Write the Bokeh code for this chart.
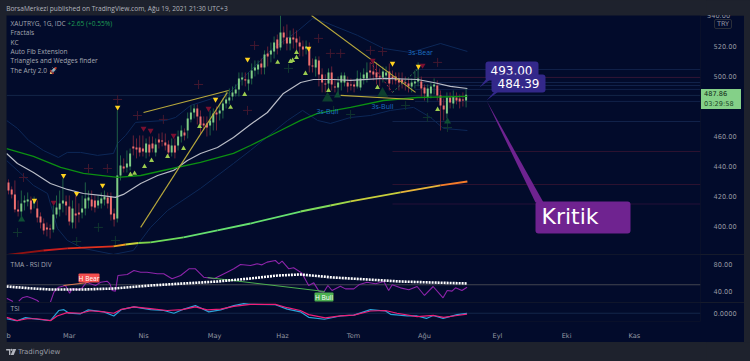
from bokeh.plotting import figure
from bokeh.layouts import column
from bokeh.models import Range1d, LinearAxis, FixedTicker, NumeralTickFormatter, Label, BoxAnnotation, Div
from bokeh.embed import file_html
from bokeh.resources import INLINE

NAN = float("nan")

# ---- data ----
open_ = [429.4,424.7,421.4,411.4,410,416,416.7,417.4,415.4,412,406.7,402,399.4,398.7,398,408,411.4,415.4,416.7,413.4,402.7,408.7,409.4,409.4,412,417.4,418,417.4,414,415.4,418,419.4,420,408.7,405.4,434,440,439.4,440,453.4,452.7,452.7,452,449.4,454.7,455.4,449.4,458,457.4,456,454.7,449.4,454,454,460,462.7,464,471.4,476,478.7,473.4,468.7,468.7,467.4,469.4,476,475.4,477.4,482,484,486.7,488.7,491.4,498,498,495.4,498.7,504,504.7,508.7,506,515.4,514.7,516.7,524.7,519.4,529.4,526,522,526,525.4,522.7,520,518.7,519.4,507.4,506,510.7,501.4,495.4,495.4,502.7,493.4,492.7,496,496,496,494.7,494.7,493.4,492.7,498.7,498.7,504,503.4,502.7,500,499.4,500.7,503.4,500,500,498.7,498,496,495.4,493.4,495.4,496.7,496.7,492.7,486,488.7,493.4,494,487.4,480.7,475.4,486,482,486,485.4,484.7,484]
high = [431.4,426.7,430.7,417.4,424,420.7,422.7,420,420,417.4,409.4,405.4,402.7,401.4,414,420.7,424,432,420.7,420.7,417.4,420.7,415.4,420.7,429.4,424,424,420.7,420.7,422.7,424,422.7,422.7,412,477.4,447.4,445.4,450.7,452,460.7,458.7,460.7,460.7,458.7,460,460,458.7,462,462.7,462,457.4,458.7,458.7,464,467.4,465.4,476,480.7,481.4,481.4,477.4,473.4,473.4,477.4,478.7,480,481.4,485.4,490.7,492,493.4,494.7,502.7,502.7,502.7,502.7,508.7,510.7,510.7,512,517.4,520,522.7,526.7,528,540.7,533.4,534.7,530.7,532,530.7,526.7,524,524,522.7,512,513.4,513.4,505.4,501.4,505.4,506.7,498.7,500,502.7,502.7,500,498.7,497.4,504,502.7,505.4,509.4,509.4,510.7,509.4,505.4,506.7,506.7,508.7,504,502.7,502.7,502.7,500,498.7,498.7,504,509.4,500,494.7,494.7,496,498.7,497.4,490.7,485.4,489.4,489.4,490.7,489.4,488,489.4,492]
low = [421.4,418.7,409.4,406.7,406,410.7,413.4,408.7,412,402.7,398.7,394.7,393.4,392,396,405.4,406.7,409.4,407.4,400.7,398.7,398.7,402.7,405.4,407.4,412,410.7,409.4,412,412,414,412,404,400,402.7,430.7,436,436,437.4,447.4,445.4,446.7,446.7,445.4,446.7,449.4,446.7,452,453.4,450.7,446.7,446.7,445.4,450.7,456,457.4,458.7,469.4,472,468,461.4,464,460,460.7,464,464,470.7,472,478.7,481.4,484,486.7,486.7,494,493.4,490.7,494.7,500,501.4,501.4,501.4,506.7,509.4,512,514.7,517.4,521.4,517.4,517.4,518.7,517.4,513.4,513.4,514.7,502.7,502.7,500,493.4,489.4,489.4,492,490.7,489.4,488,490.7,493.4,489.4,490.7,489.4,492,490.7,494.7,496,498.7,497.4,494.7,493.4,496,497.4,490.7,494.7,494.7,490.7,492,490.7,489.4,489.4,492,493.4,486.7,484,482.7,485.4,488,484,464,470.7,472,478.7,478.7,481.4,478.7,480,479.4]
close = [424,421.4,411.4,410,415.4,417.4,418,411.4,418,406,402.7,397.4,398,398,408,412.7,415.4,417.4,414,403.4,412,407.4,408,412,418.7,419.4,413.4,412.7,417.4,418.7,420,415.4,408,404.7,434,440.7,438.7,442,448.7,452,451.4,449.4,450,455.4,449.4,452,454.7,456,456.7,454,449.4,454,449.4,460,464,460.7,472,476,478.7,473.4,467.4,467.4,466,470.7,475.4,474.7,477.4,482,484.7,486,489.4,491.4,498.7,499.4,497.4,498,504,506,508,506,514.7,513.4,517.4,522.7,518.7,529.4,526,522,526,524.7,522.7,520,518,520,507.4,506.7,511.4,501.4,496,494.7,502.7,494.7,492.7,496,500.7,500.7,493.4,494,493.4,498.7,498.7,501.4,502.7,502.7,501.4,499.4,499.4,503.4,502.7,495.4,498.7,497.4,496,495.4,495.4,493.4,496,496.7,498.7,492,488.7,492,493.4,494.7,487.4,480.7,478,486,482.7,486.7,484,483.4,484,487.86]

white_idx = [-0.6,2.8,7.8,13.1,18.4,23.4,28.8,33.4,35.9,41.3,46.6,51.6,55.9,60,65.3,70.3,75.6,80.9,85.9,91.3,95.3,101.6,106.9,117.2,127.8,132.8,138.1,143.4]
white_val = [448.7,442,436,428.7,424.7,422,420.7,419.4,421.4,428.7,434,437.4,444,448.7,452.7,459.4,468,476,488.7,496,498,498,497.4,498.7,498,496,493.4,492]
green_idx = [-0.6,7.8,16.3,23.4,34.1,41.3,49.7,60,70.3,75.6,85,91.3,96.6,106.9,117.2,127.8,143.4]
green_val = [452,446.7,439.4,435.4,432.7,434,438,442.7,448.7,454,464,470.7,475.4,479.4,484,486,486.7]
long_idx = [-0.6,10.9,18.4,32.8,36.6,40.6,44.4,54.7,65.3,75.6,91.3,100.6,106.9,122.5,135,143.4]
long_val = [381,384,385.4,386.7,388,389,389.4,392.7,397.4,402,410,414,416.7,422.7,427.4,430]
long_colors = ["#8e1212","#c91d1d","#e0301e","#f09a20","#c8d23a","#7fd14a","#6fdc5c","#66e070","#66e070","#66e070","#7fdc5c","#9fd84a","#c8cf3c","#e8b53a","#f57c2a"]
upper_idx = [-0.6,2.8,6.3,10.9,15.6,18.4,22.5,27.8,32.8,34.1,36.6,39.7,49.1,52.2,56.9,63.8,68.8,75.6,81.9,90.6,95,99.1,109.1,117.2,125.6,135,143.4]
upper_val = [470.7,465.4,457.4,450.7,446,449.4,449.4,447.4,448.7,455.4,460.7,469.4,470.7,472.7,480.7,485.4,488.7,504,517.4,530.7,538.7,536,527.4,518.7,516,522,516.7]
lower_idx = [-0.6,3.8,7.8,12.2,15.3,18.4,23.4,32.8,39,44.4,49.7,60,70.3,75.6,87.2,91.9,96.6,100.6,106.9,113.1,119.4,126.6,131.9,135.9,143.4]
lower_val = [444,435.4,427.4,422,398.7,390.7,385.4,381.4,384,399.4,410.7,425.4,442,450.7,470.7,477.4,470.7,468.7,472.7,474,477.4,479.4,472.7,465.4,464]

cross_red_idx = [59.4,34.1,40.3,48.4,74.7,4.7,25,30.9,76.9,96.9,100.6,103.8,113.1,116.9,134.1]
cross_red_val = [494.7,484.7,474,471.4,477.4,432.7,438.7,438.7,520.7,525.4,515.4,515.4,517.4,516.7,509.4]
cross_green_idx = [2.8,28.1,21.3,33.4,87.5,101.6,106.9,124.1,130.9,137.2]
cross_green_val = [396,399.4,390,390.7,505.4,477.4,474.7,480.7,472.7,466]
yellow_idx = [8.1,17.2,21.3,29.4,34.1,64.7,74.7,93.8,120,128.1]
yellow_val = [417.4,434,422,427.4,479.4,484.7,511.4,518.7,508.7,506.7]
up_idx = [38.1,39.4,42.5,44.7,49.7,54.7,59.7,69.4,73.8,84.1,88.1,88.8,90,90,92.8,100,115.3,134.1]
up_val = [434.7,435.4,440,444,446.7,452,466.7,479.4,488,509.4,510,510.7,516,512.7,502,490.7,492.7,478]
dn_idx = [14.1,42.2,44.4,51.6,62.5,113.8,129.4]
dn_val = [416,465.4,464,460.7,478.7,510.7,507.4]
big_idx = [99.7,116.9]
big_val = [485.4,488.7]
small_idx = [102.8,137.2,4.1]
small_val = [487.4,470,404.7]

fib_levels = [504.7,499.4,496,494,491.4,487.4,483.4,470,450,428,415]
fib_start = [127,127,127,127,127,-0.6,127,120,120,120,120]
fib_colors = ["#11224a","#341636","#11224a","#11224a","#11224a","#142548","#11224a","#11224a","#2c1230","#2c1230","#241038"]

trend_x0 = [42.2,41.3,94.7,103.8]
trend_y0 = [476,399.4,540.7,487.4]
trend_x1 = [68.8,68.4,127.2,126.6]
trend_y1 = [490.7,489.4,489.4,484.7]

rsi_idx = [-0.6,1.4,NAN,3.2,4.3,5.8,7.4,9,9.5,NAN,13.1,14.2,15.7,17.8,19.1,19.9,22,23,24.4,25.6,27.2,28.8,30.8,31.7,32.4,33.4,34.2,37.1,39.2,41.3,43.3,46.5,48.5,51.1,53.8,56.4,58.4,61,64.2,68.3,70.4,72.5,75.6,77.7,79.2,80.8,83.4,84.5,85.5,87.6,89.1,91.7,93.8,95.4,97,98.5,99.8,101.1,103.7,105.3,107.9,109.5,112,114.7,117.3,118.8,119.9,122.5,125.1,127.7,130,132.7,135.8,137.1,138.6,139.7,141.7,143.3]
rsi_val = [30.1,25.2,NAN,25.7,30.6,32.6,30.1,26.7,24.2,NAN,24.2,39,46.4,48.9,37.5,44,42.5,45.4,53.8,51.4,48.9,53.8,55.3,51.4,41.5,40.5,63.7,65.2,71.1,68.6,68.6,66.2,66.2,58.8,63.7,73.6,73.6,61.2,58.8,68.6,73.6,80,78.5,81,79.5,83.5,85.9,81,84.9,73.6,75.1,67.2,48.9,52.8,40.5,39,48.9,41.5,47.9,43.9,43.9,49.9,53.8,51.4,54.8,41.5,49.9,45.4,42.5,47.4,34.1,47.4,30.6,41.5,40.5,45.4,41.5,46.4]
tma_idx = [-0.6,7.8,13.1,23.4,32.8,44.4,54.7,65.3,75.6,84.1,91.3,101.6,112.2,122.5,132.8,143.4]
tma_val = [47.4,44.4,43,43,44.4,48.9,51.9,54.8,59.3,63.7,65.2,60.7,57.8,54.8,53.3,51.9]

tsi_pink_idx = [-0.6,2.7,5.8,9,13.1,15.2,18.3,22.5,25.6,29.8,32.9,35,39.2,44.4,49.6,54.3,58.4,62.1,66.3,70.4,75.6,83.4,87.1,91.2,93.8,99,103.7,107.9,113.1,117.8,121.4,127.7,132.9,136,140.2,143.3]
tsi_pink_val = [-5,-9,-6.7,-6.7,-9,-3.3,0.7,0,3,1.7,0,4.3,7.7,5.7,3.3,4.3,7.7,4,5,8.3,10.7,10.7,6.7,3.3,-1.7,-5.7,-3.3,-2.3,2.7,3.3,0,-4,-2.7,-5,-2.7,-1]
tsi_cyan_idx = [-0.6,2.7,5.3,9,13.1,15.7,17.3,18.9,22.5,24.8,29.8,32.9,35.2,39.2,44.4,48.5,51.7,54.3,58.4,62.6,66.3,70.4,73.5,75.6,83.4,87.1,91.2,93.8,98.7,103.7,107.9,113.1,117.8,119.4,124.6,127.7,130.6,132.7,135.8,140.2,143.3]
tsi_cyan_val = [-6.7,-9.3,-5.3,-7.3,-9,3.3,4.3,0,-0.7,4,1.7,-3.3,4.3,7.7,4.3,3.3,0,4.3,9.3,1.7,4,9.3,11.7,10.7,10.3,5,1.7,-5,-7.3,-3.3,-2.3,4.3,2.7,-1.3,-3.3,-3.3,-6.3,-2.7,-6.3,-1.7,0]

main_ticks = [400,420,440,460,500,520]
rsi_ticks = [40,80]
tsi_ticks = [0]
month_pos = [0,19,42.2,64.4,85.6,107.8,130,152.8,174.4,195.6]
month_names = ["b","Mar","Nis","May","Haz","Tem","Ağu","Eyl","Eki","Kas"]

# ---- styling ----
NAVY = "#020b2b"
DARK = "#1e222d"
TXT = "#a4a7b1"
AX = "#9598a1"
FONT = "DejaVu Sans"
SMALL = "Open Sans"
GREEN = "#7fcb85"
RED = "#ef7070"
FS = "6.6px"

def bx(px):
    return (px - 8) / 3.2

def py(y):
    return 550.67 - y / 1.5

def ry(y):
    return 40 + (291 - y) / 0.675

xr = Range1d(bx(6), bx(700))

def pane(height, y_range, ticks, fmt, bottom=0):
    p = figure(width=738, height=height, x_range=xr, y_range=y_range, tools="", toolbar_location=None,
               output_backend="svg", background_fill_color=NAVY, border_fill_color=NAVY,
               min_border_left=0, min_border_right=44, min_border_top=0, min_border_bottom=bottom,
               x_axis_location=None, y_axis_location=None, margin=(0, 6, 0, 6))
    p.grid.visible = False
    p.outline_line_color = None
    ax = LinearAxis(ticker=FixedTicker(ticks=ticks), formatter=NumeralTickFormatter(format=fmt))
    ax.axis_line_color = None
    ax.major_tick_line_color = None
    ax.minor_tick_line_color = None
    ax.major_label_standoff = 7
    ax.major_label_text_color = AX
    ax.major_label_text_font = FONT
    ax.major_label_text_font_size = "6.6px"
    p.add_layout(ax, "right")
    return p

def label(p, x, y, text, color=TXT, size=FS, align="left", font=SMALL, **kw):
    p.add_layout(Label(x=x, y=y, text=text, text_color=color, text_font=font, text_font_size=size,
                       text_align=align, text_baseline="middle", **kw))

# ---- header ----
head = figure(width=750, height=15, x_range=Range1d(0, 750), y_range=Range1d(15, 0), tools="",
              toolbar_location=None, output_backend="svg", background_fill_color=DARK, border_fill_color=DARK,
              min_border=0, x_axis_location=None, y_axis_location=None, margin=(0, 0, 0, 0))
head.grid.visible = False
head.outline_line_color = None
label(head, 6, 8, "BorsaMerkezi published on TradingView.com, Ağu 19, 2021 21:30 UTC+3", color="#b2b5be")

# ---- main pane ----
main = pane(239, Range1d(py(254), py(15)), main_ticks, "0.00")

for lv, st, c in zip(fib_levels, fib_start, fib_colors):
    main.segment(x0=[st], y0=[lv], x1=[bx(700)], y1=[lv], line_color=c, line_width=1)

main.line(upper_idx, upper_val, line_color="#0d2858", line_width=1)
main.line(lower_idx, lower_val, line_color="#0d2858", line_width=1)

main.scatter(cross_red_idx, cross_red_val, marker="cross", size=9, line_color="#43182f", fill_color=None, line_width=1)
main.scatter(cross_green_idx, cross_green_val, marker="cross", size=9, line_color="#10352f", fill_color=None, line_width=1)

idx = list(range(len(close)))
wick_colors = ["#1f5f45" if c >= o else "#6a2238" for o, c in zip(open_, close)]
body_colors = [GREEN if c >= o else RED for o, c in zip(open_, close)]
main.segment(idx, high, idx, low, line_color=wick_colors, line_width=1)
main.vbar(idx, 0.62, [min(o, c) for o, c in zip(open_, close)], [max(max(o, c), min(o, c) + 0.7) for o, c in zip(open_, close)],
          fill_color=body_colors, line_color=None)

main.line(white_idx, white_val, line_color="#b9bcc6", line_width=1.2)
main.line(green_idx, green_val, line_color="#0c8f12", line_width=1.3)
for i, c in enumerate(long_colors):
    main.line(long_idx[i:i + 2], long_val[i:i + 2], line_color=c, line_width=1.8)

main.segment(trend_x0, trend_y0, trend_x1, trend_y1, line_color="#b8a83c", line_width=1.1)
main.line([113.1, 120], [509.4, 489.4], line_color="#a52a45", line_width=1, line_dash="2 2")
main.line([120, 128.1], [489.4, 505.4], line_color="#2e7d4f", line_width=1, line_dash="2 2")

main.scatter(yellow_idx, yellow_val, marker="inverted_triangle", size=5.5, fill_color="#ffd21f", line_color=None)
main.scatter(up_idx, up_val, marker="triangle", size=5, fill_color="#9ccc50", line_color=None)
main.scatter(dn_idx, dn_val, marker="inverted_triangle", size=6, fill_color="#7a1030", line_color=None)
main.scatter(big_idx, big_val, marker="triangle", size=11, fill_color="#0d3f2e", line_color=None)
main.scatter(small_idx, small_val, marker="triangle", size=7, fill_color="#0f5035", line_color=None)

for tx, ty, t in [(420, 52, "3s-Bear"), (327, 111, "3s-Bull"), (382, 106, "3s-Bull")]:
    label(main, bx(tx), py(ty), t, color="#1c6fc0", size="7px", align="center")

# legend texts
label(main, bx(10), py(23), "XAUTRYG, 1G, IDC")
label(main, bx(67), py(23), "+2.65 (+0.55%)", color="#1f9d55")
for ly, t in zip([32, 42, 51, 60, 70], ["Fractals", "KC", "Auto Fib Extension", "Triangles and Wedges finder", "The Arty 2.0 🚀"]):
    label(main, bx(10), py(ly), t)

# call-outs
CALL = "#33288a"
PURPLE = "#6f2390"
main.patch([bx(479), bx(486), bx(491)], [py(87), py(78), py(78)], fill_color=CALL, line_color=None)
main.patch([bx(486), bx(494), bx(498)], [py(100), py(91), py(91)], fill_color=CALL, line_color=None)
main.patch([bx(486), bx(535), bx(543)], [py(100), py(202), py(202)], fill_color=PURPLE, line_color=None)

def box(l, r, t, b, color):
    main.add_layout(BoxAnnotation(left=bx(l), right=bx(r), top=py(t), bottom=py(b), fill_color=color, fill_alpha=1,
                                  line_color=None, border_radius=3, level="annotation"))

box(485, 538, 61, 80, CALL)
label(main, bx(490), py(70), "493.00", color="#ffffff", size="12px", font=FONT)
box(491, 545, 74, 92, CALL)
label(main, bx(497), py(83), "484.39", color="#ffffff", size="12px", font=FONT)
box(535, 630, 201, 233, PURPLE)
label(main, bx(541), py(216), "Kritik", color="#ffffff", size="22px", font=FONT)

# ---- RSI pane ----
rsi = pane(48, Range1d(ry(302), ry(254)), rsi_ticks, "0.00")
rsi.segment([bx(6)], [50], [bx(700)], [50], line_color="#434651", line_width=1)
rsi.line(rsi_idx, rsi_val, line_color="#8e24aa", line_width=1.1)
rsi.line([17.2, 25], [48.9, 53.3], line_color="#e07a50", line_width=1)
rsi.line([62.2, 98.8], [60.7, 40], line_color="#4caf50", line_width=1)
rsi.line(tma_idx, tma_val, line_color="#ffffff", line_width=2.6, line_dash="2 1")
label(rsi, bx(10), ry(264), "TMA - RSI DIV")
rsi.add_layout(BoxAnnotation(left=bx(78), right=bx(99), top=ry(273), bottom=ry(282), fill_color="#f44e4e", fill_alpha=1, line_color=None, border_radius=1))
label(rsi, bx(88.5), ry(277.5), "H Bear", color="#ffffff", align="center")
rsi.add_layout(BoxAnnotation(left=bx(314), right=bx(333), top=ry(292), bottom=ry(301), fill_color="#4caf50", fill_alpha=1, line_color=None, border_radius=1))
label(rsi, bx(323.5), ry(296.5), "H Bull", color="#ffffff", align="center")

# ---- TSI pane with the time axis ----
tsi = pane(40, Range1d(-10, 13), tsi_ticks, "0.0000", bottom=17)
tsi.segment([bx(6)], [0], [bx(700)], [0], line_color="#14264a", line_width=1)
tsi.line(tsi_cyan_idx, tsi_cyan_val, line_color="#29a3d8", line_width=1.2)
tsi.line(tsi_pink_idx, tsi_pink_val, line_color="#f01e78", line_width=1.2)
label(tsi, bx(10), 6, "TSI")
xax = LinearAxis(ticker=FixedTicker(ticks=month_pos), major_label_overrides=dict(zip(month_pos, month_names)))
xax.axis_line_color = None
xax.major_tick_line_color = None
xax.minor_tick_line_color = None
xax.major_label_standoff = 4
xax.major_label_text_color = AX
xax.major_label_text_font = FONT
xax.major_label_text_font_size = "6.6px"
tsi.add_layout(xax, "below")

# ---- footer ----
foot = figure(width=750, height=19, x_range=Range1d(0, 750), y_range=Range1d(19, 0), tools="",
              toolbar_location=None, output_backend="svg", background_fill_color=DARK, border_fill_color=DARK,
              min_border=0, x_axis_location=None, y_axis_location=None, margin=(0, 0, 0, 0))
foot.grid.visible = False
foot.outline_line_color = None
foot.patch([6, 10.5, 10.5, 9, 9, 6], [6.5, 6.5, 12.5, 12.5, 8, 8], fill_color="#b2b5be", line_color=None)
foot.scatter([11.8], [7.3], marker="circle", size=2.2, fill_color="#b2b5be", line_color=None)
foot.patch([13.5, 16.7, 14, 10.8], [6.5, 6.5, 12.5, 12.5], fill_color="#b2b5be", line_color=None)
label(foot, 18.5, 9.5, "TradingView", color="#9a9da6", size="7px", font=FONT)

# price tag, currency box and the half-hidden top tick sit over the axis strip
tag = Div(text="<div style='line-height:9.5px'><span style='color:#0e2414'>487.86</span><br><span style='color:#1d4a2a'>03:29:58</span></div>",
          width=40, height=20, margin=(0, 0, 0, 0),
          styles={"position": "absolute", "left": "701px", "top": "89px", "background-color": "#84d088", "z-index": "5",
                  "font-family": FONT, "font-size": "6.6px", "padding": "1px 3px", "box-sizing": "border-box", "white-space": "nowrap"})
cur = Div(text="TRY", width=18, height=10, margin=(0, 0, 0, 0),
          styles={"position": "absolute", "left": "714px", "top": "19px", "color": AX, "z-index": "5",
                  "border": "1px solid #2a2e39", "border-radius": "2px", "box-sizing": "border-box", "line-height": "8px",
                  "font-family": FONT, "font-size": "6.6px", "text-align": "center"})
top_tick = Div(text="540.00", width=30, height=5, margin=(0, 0, 0, 0),
               styles={"position": "absolute", "left": "707px", "top": "15px", "color": AX, "z-index": "4", "overflow": "hidden",
                       "line-height": "2px", "font-family": FONT, "font-size": "6.6px"})

root = column(head, main, rsi, tsi, foot, tag, cur, top_tick, spacing=0, width=750, height=361, margin=(0, 0, 0, 0),
              styles={"background-color": DARK, "position": "relative"})
open("out.html", "w").write(file_html(root, INLINE))
